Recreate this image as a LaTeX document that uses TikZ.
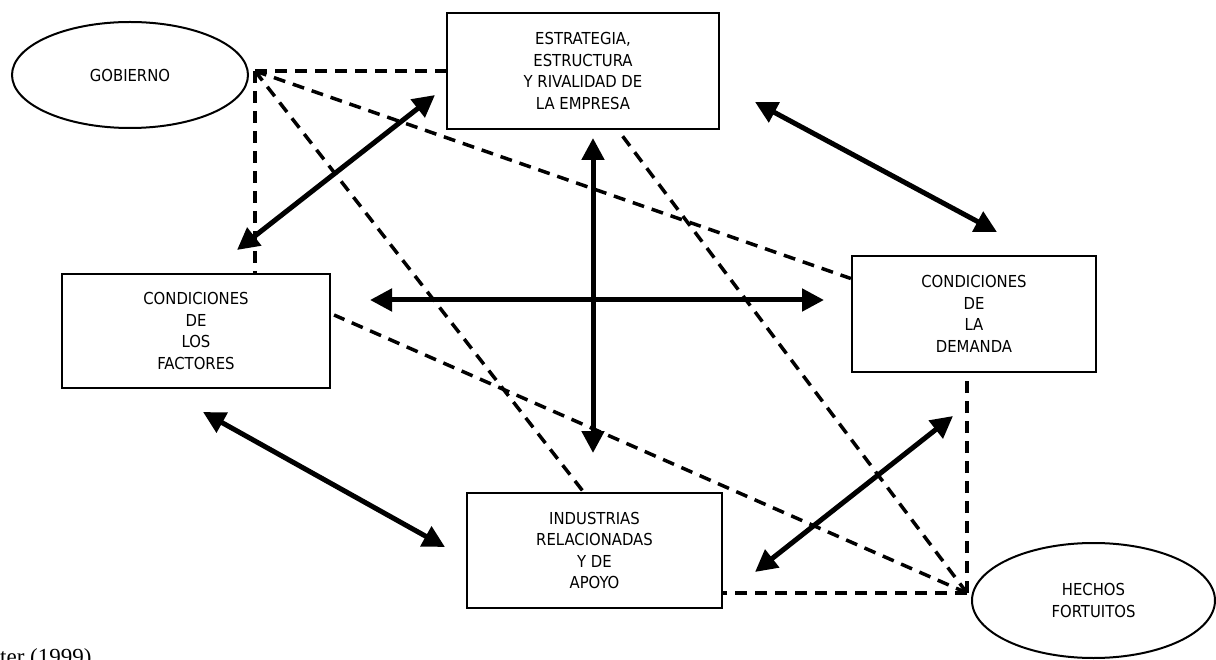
\documentclass[tikz,border=0pt]{standalone}
\usepackage{fontspec}
\setmainfont{DejaVu Sans Condensed}
\newfontfamily\tnrfont{Liberation Serif}
\usetikzlibrary{arrows.meta,shapes.geometric,calc}
\newcommand\lblfont{\fontsize{16.5}{21.5}\selectfont}
\begin{document}
\begin{tikzpicture}[x=1pt,y=-1pt,
  box/.style={draw, line width=2.2pt, rectangle, align=center, inner sep=0pt, font=\lblfont},
  oval/.style={draw, line width=2pt, ellipse, inner sep=0pt, align=center, font=\lblfont},
  dashline/.style={line width=3.5pt, dash pattern=on 12pt off 8pt},
  dbl/.style={line width=5pt, {Triangle[length=22pt,width=22pt]}-{Triangle[length=22pt,width=22pt]}}
]
\useasboundingbox (0,0) rectangle (1216,660);

% nodes
\node[oval, minimum width=236pt, minimum height=106pt] (gob) at (130,75) {GOBIERNO};
\node[box, minimum width=272pt, minimum height=116pt] (est) at (583,71) {ESTRATEGIA,\\ESTRUCTURA\\Y RIVALIDAD DE\\LA EMPRESA};
\node[box, minimum width=268pt, minimum height=114pt] (fac) at (196,331) {CONDICIONES\\DE\\LOS\\FACTORES};
\node[box, minimum width=244pt, minimum height=116pt] (dem) at (974,314) {CONDICIONES\\DE\\LA\\DEMANDA};
\node[box, minimum width=255pt, minimum height=115pt] (ind) at (594.5,550.5) {INDUSTRIAS\\RELACIONADAS\\Y DE\\APOYO};
\node[oval, minimum width=243pt, minimum height=115pt] (hec) at (1093.5,600.5) {HECHOS\\FORTUITOS};

\node[anchor=base west, inner sep=0pt, font=\tnrfont\fontsize{23}{23}\selectfont] (src) at (-32,664) {Porter (1999)};

% hubs
\coordinate (gh) at (255,71);
\coordinate (hh) at (967,593);

% dashed links from GOBIERNO
\draw[dashline] (gh) -- (gh -| est.west);
\draw[dashline] (gh) -- (gh |- fac.north);
\draw[dashline] (gh) -- ($(dem.north west)!0.2!(dem.south west)$);
\draw[dashline] (gh) -- ([xshift=-11pt]ind.north);

% dashed links from HECHOS FORTUITOS
\draw[dashline] (hh) -- (hh -| ind.east);
\draw[dashline] (hh) -- (hh |- dem.south);
\draw[dashline] (hh) -- ([xshift=35pt]est.south);
\draw[dashline] (hh) -- ([xshift=3pt,yshift=16pt]fac.east);

% arrow end points
\coordinate (a1s) at (237,250); \coordinate (a1e) at (435,95);
\coordinate (a2s) at (755,102); \coordinate (a2e) at (997,232);
\coordinate (a3s) at (593,138); \coordinate (a3e) at (593,453);
\coordinate (a4s) at (370,300); \coordinate (a4e) at (824,300);
\coordinate (a5s) at (203,412); \coordinate (a5e) at (445,547);
\coordinate (a6s) at (755,572); \coordinate (a6e) at (953,416);

\draw[dbl] (a1s) -- (a1e);
\draw[dbl] (a2s) -- (a2e);
\draw[dbl] (a3s) -- (a3e);
\draw[dbl] (a4s) -- (a4e);
\draw[dbl] (a5s) -- (a5e);
\draw[dbl] (a6s) -- (a6e);
\end{tikzpicture}
\end{document}
